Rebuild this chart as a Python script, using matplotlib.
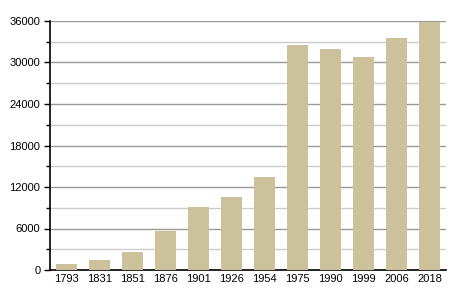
import matplotlib
matplotlib.use("Agg")
import matplotlib.pyplot as plt
from matplotlib.ticker import MultipleLocator

plt.rcParams['font.family'] = ['Liberation Sans', 'DejaVu Sans']

years = ["1793", "1831", "1851", "1876", "1901", "1926", "1954", "1975", "1990", "1999", "2006", "2018"]
population = [910, 1490, 2640, 5680, 9150, 10590, 13480, 32500, 31900, 30780, 33530, 35840]
yticks = [0, 6000, 12000, 18000, 24000, 30000, 36000]

fig = plt.figure(figsize=(4.55, 3.0), dpi=100)
ax = fig.add_axes([0.11, 0.10, 0.87, 0.83])
x = list(range(len(years)))
ax.bar(x, population, width=0.63, color="#CBC29C", zorder=3)
ax.set_xlim(-0.5, len(years) - 0.5)
ax.set_ylim(0, 36000)
ax.set_yticks(yticks)
ax.set_yticklabels([str(v) for v in yticks])
ax.yaxis.set_minor_locator(MultipleLocator(3000))
ax.set_xticks(x)
ax.set_xticklabels(years)
ax.grid(axis="y", which="major", color="#999999", linewidth=1.0, zorder=0)
ax.grid(axis="y", which="minor", color="#CCCCCC", linewidth=1.0, zorder=0)
for s in ["top", "right"]:
    ax.spines[s].set_visible(False)
ax.spines["left"].set_color("black")
ax.spines["bottom"].set_color("black")
ax.spines["left"].set_linewidth(1.2)
ax.spines["bottom"].set_linewidth(1.2)
ax.tick_params(axis="y", which="major", length=4, width=1, labelsize=8, pad=3)
ax.tick_params(axis="y", which="minor", length=3, width=1)
ax.tick_params(axis="x", length=0, labelsize=8, pad=3)
fig.savefig("out.png", dpi=100)
